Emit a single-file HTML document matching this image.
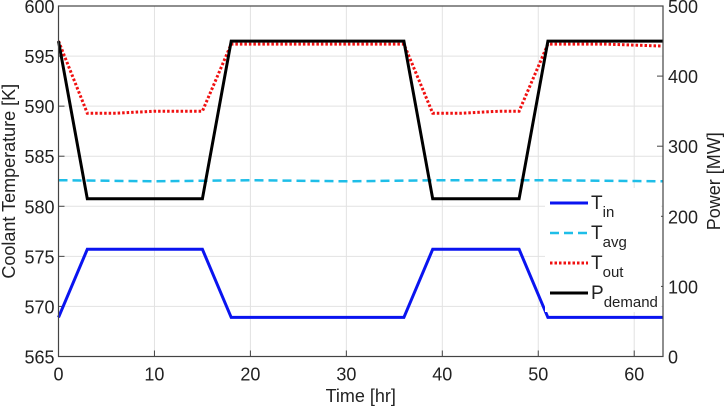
<!DOCTYPE html>
<html><head><meta charset="utf-8"><style>
body{margin:0;background:#fff;}
text{font-family:"Liberation Sans",Arial,sans-serif;fill:#222;}
</style></head><body>
<svg id="c" width="726" height="410" xmlns="http://www.w3.org/2000/svg"></svg>
<script>
const xTicks=[0,10,20,30,40,50,60];
const yTicksL=[565,570,575,580,585,590,595,600];
const yTicksR=[0,100,200,300,400,500];
const tinT=[0,3,15,18,36,39,48,51,63];
const tinV=[568.9,575.7,575.7,568.9,568.9,575.7,575.7,568.9,568.9];
const tavgT=[0,10,20,30,40,50,63];
const tavgV=[582.6,582.5,582.6,582.5,582.6,582.6,582.5];
const toutT=[0,3,6,10,15,18,25,36,39,42,46,48,51,57,63];
const toutV=[596.5,589.3,589.3,589.5,589.5,596.2,596.2,596.2,589.3,589.3,589.5,589.5,596.2,596.2,596.0];
const pT=[0,3,15,18,36,39,48,51,63];
const pV=[450,225,225,450,450,225,225,450,450];
const L=58.5,R=663,T=6,B=356.5;
const X=t=>L+(t-0)/63*(R-L);
const YL=v=>B-(v-565)/35*(B-T);
const YR=v=>B-v/500*(B-T);
const svg=document.getElementById('c');
const NS='http://www.w3.org/2000/svg';
function el(tag,attrs,parent){const e=document.createElementNS(NS,tag);for(const k in attrs)e.setAttribute(k,attrs[k]);(parent||svg).appendChild(e);return e;}
xTicks.forEach(t=>{const g=el('line',{x1:X(t),x2:X(t),y1:T,y2:B,stroke:'#e2e2e2'});


const tk=el('line',{x1:X(t),x2:X(t),y1:B,y2:B-6,stroke:'#444'});


const tx=el('text',{x:X(t),y:B+24,'text-anchor':'middle','font-size':18});tx.textContent=t;

});
yTicksL.forEach(v=>{const g=el('line',{x1:L,x2:R,y1:YL(v),y2:YL(v),stroke:'#e2e2e2'});


const tk=el('line',{x1:L,x2:L+6,y1:YL(v),y2:YL(v),stroke:'#444'});


const tx=el('text',{x:L-4,y:YL(v)+7,'text-anchor':'end','font-size':18});tx.textContent=v;

});
yTicksR.forEach(v=>{const tk=el('line',{x1:R,x2:R-6,y1:YR(v),y2:YR(v),stroke:'#444'});


const tx=el('text',{x:R+5,y:YR(v)+7,'text-anchor':'start','font-size':18});tx.textContent=v;

});
function series(ts,vs,fy,attrs,name){const p=ts.map((t,i)=>X(t).toFixed(1)+','+fy(vs[i]).toFixed(1)).join(' ');
const e=el('polyline',Object.assign({points:p,fill:'none'},attrs));

}
series(tavgT,tavgV,YL,{stroke:'#1ebee8','stroke-width':2.5,'stroke-dasharray':'9,5'},'t-avg-line');
series(tinT,tinV,YL,{stroke:'#0a14f0','stroke-width':3},'t-in-line');
series(toutT,toutV,YL,{stroke:'#f01010','stroke-width':3,'stroke-dasharray':'2.5,2'},'t-out-line');
series(pT,pV,YR,{stroke:'#000','stroke-width':3},'p-demand-line');
const bx=el('rect',{x:L,y:T,width:R-L,height:B-T,fill:'none',stroke:'#444','stroke-width':1.2});


const lg=el('g',{});


el('rect',{x:545,y:188,width:116,height:124,fill:'#fff'},lg);
const ents=[['in','#0a14f0','',3],['avg','#1ebee8','9,5',2.5],['out','#f01010','2.5,2',3],['demand','#000','',3]];
ents.forEach((e,i)=>{const y=203+i*30;const g=el('g',{},lg);


el('line',{x1:550,x2:588,y1:y,y2:y,stroke:e[1],'stroke-width':e[3],'stroke-dasharray':e[2]},g);
const t=el('text',{x:591,y:y+6,'font-size':19},g);
t.innerHTML=(i==3?'P':'T')+'<tspan dy="8" font-size="15">'+e[0]+'</tspan>';});
const xl=el('text',{x:X(31.5),y:402,'text-anchor':'middle','font-size':18});xl.textContent='Time [hr]';


const yl=el('text',{x:0,y:0,'text-anchor':'middle','font-size':18,transform:'translate(15,'+((T+B)/2)+') rotate(-90)'});yl.textContent='Coolant Temperature [K]';


const yr=el('text',{x:0,y:0,'text-anchor':'middle','font-size':18,transform:'translate(720,'+((T+B)/2)+') rotate(-90)'});yr.textContent='Power [MW]';


</script>
</body></html>
